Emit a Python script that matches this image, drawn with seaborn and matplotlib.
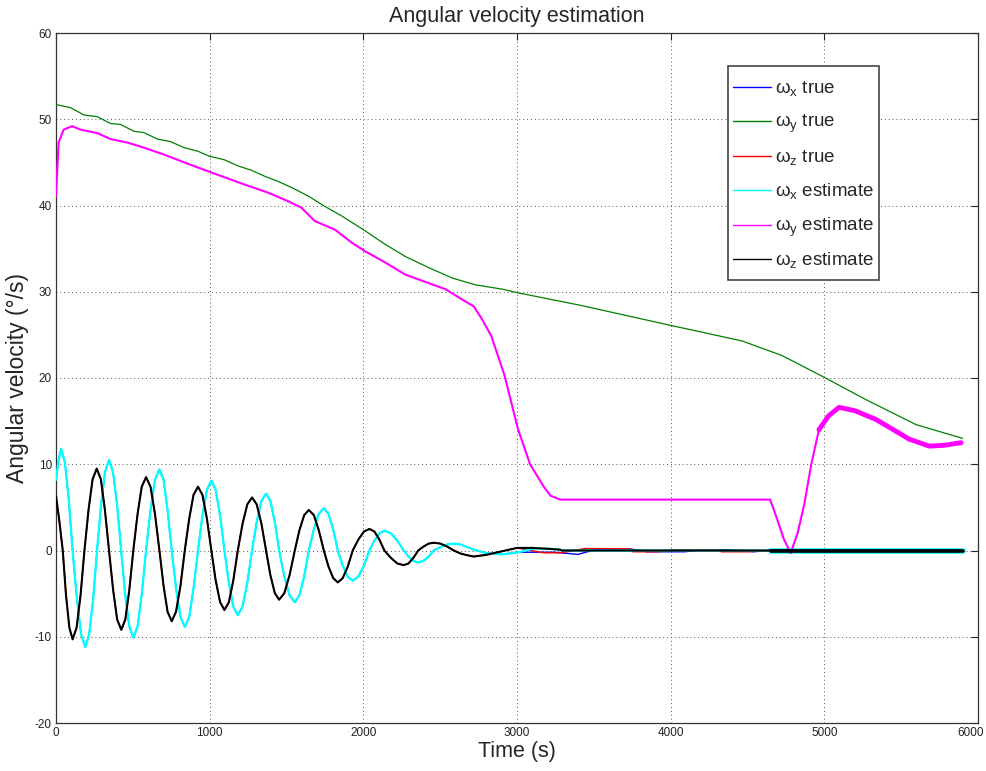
import numpy as np
import pandas as pd
import matplotlib
matplotlib.use("Agg")
import matplotlib.pyplot as plt
from matplotlib.lines import Line2D
import matplotlib.transforms as mtransforms
import seaborn as sns

# ---------------- data ----------------
# omega_x oscillation (true and estimate overlap until ~2900 s)
t_x_osc = [0, 15, 33, 58, 83, 108, 136, 163, 191, 216, 242, 267, 293, 319, 345, 371, 398, 424,
           450, 477, 503, 531, 558, 586, 615, 644, 673, 700, 726, 753, 781, 810, 838, 867, 895,
           924, 953, 982, 1011, 1039, 1068, 1096, 1125, 1154, 1183, 1214, 1245, 1276, 1306, 1337,
           1367, 1395, 1424, 1452, 1486, 1520, 1554, 1584, 1615, 1645, 1678, 1710, 1743, 1773,
           1804, 1834, 1866, 1899, 1931, 1967, 2004, 2040, 2072, 2105, 2137, 2179, 2221, 2263,
           2294, 2326, 2357, 2391, 2425, 2459, 2502, 2546, 2589, 2632, 2676, 2719, 2800, 2900]
wx_osc = [8.2, 10.3, 11.8, 10.2, 5.9, 0.0, -5.6, -9.7, -11.2, -9.7, -5.6, 0.0, 5.25, 9.1, 10.5,
          9.1, 5.25, 0.0, -5.05, -8.8, -10.1, -8.8, -5.05, 0.0, 4.7, 8.2, 9.4, 8.2, 4.7, 0.0,
          -4.4, -7.7, -8.85, -7.7, -4.4, 0.0, 4.05, 7.05, 8.1, 7.05, 4.05, 0.0, -3.75, -6.5, -7.5,
          -6.5, -3.75, 0.0, 3.3, 5.75, 6.6, 5.75, 3.3, 0.0, -3.0, -5.2, -6.0, -5.2, -3.0, 0.0,
          2.45, 4.25, 4.9, 4.25, 2.45, 0.0, -1.75, -3.05, -3.5, -3.05, -1.75, 0.0, 1.15, 2.0, 2.3,
          2.0, 1.15, 0.0, -0.7, -1.2, -1.4, -1.2, -0.7, 0.0, 0.4, 0.7, 0.8, 0.7, 0.4, 0.1, -0.3,
          -0.45]

# omega_z oscillation
t_z_osc = [0, 22, 44, 65, 87, 108, 134, 160, 185, 212, 238, 265, 292, 318, 345, 372, 398, 425,
           451, 477, 503, 531, 558, 586, 615, 644, 673, 700, 726, 753, 781, 810, 838, 867, 895,
           924, 953, 982, 1011, 1039, 1068, 1096, 1125, 1154, 1183, 1214, 1245, 1276, 1306, 1337,
           1367, 1395, 1424, 1452, 1486, 1520, 1554, 1584, 1615, 1645, 1678, 1710, 1743, 1773,
           1804, 1834, 1866, 1899, 1931, 1967, 2004, 2040, 2072, 2105, 2137, 2179, 2221, 2263,
           2294, 2326, 2357, 2391, 2425, 2459, 2502, 2546, 2589, 2632, 2676, 2719, 2800, 2900]
wz_osc = [6.3, 3.4, 0.0, -5.15, -8.95, -10.3, -8.95, -5.15, 0.0, 4.75, 8.25, 9.5, 8.25, 4.75, 0.0,
          -4.6, -8.0, -9.2, -8.0, -4.6, 0.0, 4.25, 7.4, 8.5, 7.4, 4.25, 0.0, -4.1, -7.1, -8.2,
          -7.1, -4.1, 0.0, 3.7, 6.45, 7.4, 6.45, 3.7, 0.0, -3.45, -6.0, -6.9, -6.0, -3.45, 0.0,
          3.1, 5.35, 6.15, 5.35, 3.1, 0.0, -2.85, -4.95, -5.7, -4.95, -2.85, 0.0, 2.35, 4.1, 4.7,
          4.1, 2.35, 0.0, -1.85, -3.2, -3.7, -3.2, -1.85, 0.0, 1.25, 2.2, 2.5, 2.2, 1.25, 0.0,
          -0.85, -1.5, -1.7, -1.5, -0.85, 0.0, 0.45, 0.8, 0.9, 0.8, 0.45, 0.0, -0.35, -0.55,
          -0.7, -0.5, -0.1]

# true tails (small residuals after 2900 s)
t_x_true_tail = [3000, 3241, 3397, 3509, 3732, 3844, 4089, 4201, 4357, 4536, 4647, 5200, 5900]
wx_true_tail = [-0.2, -0.2, -0.45, 0.1, 0.2, -0.15, -0.15, 0.05, 0.1, -0.15, 0.0, 0.0, 0.0]
t_z_true_tail = [3000, 3174, 3286, 3442, 3732, 3754, 3911, 4022, 4313, 4330, 4491, 4647, 5200, 5900]
wz_true_tail = [0.3, -0.27, -0.27, 0.23, 0.2, -0.15, -0.15, 0.08, 0.08, -0.15, -0.15, 0.0, 0.0, 0.0]

# estimate tails: oscillation fades, then zero, then noisy around zero
t_x_est_tail = [3000, 3100, 3200, 3280, 3290, 4650, 5900]
wx_est_tail = [-0.25, 0.2, 0.2, 0.1, 0.0, 0.0, 0.0]
t_z_est_tail = [3000, 3100, 3200, 3280, 3290, 4650, 5900]
wz_est_tail = [0.3, 0.3, 0.2, 0.1, 0.0, 0.0, 0.0]
t_noise = [4650, 5900]
v_noise = [0.0, 0.0]

# omega_y true
t_y_true = [0, 94, 181, 268, 355, 420, 508, 573, 660, 747, 834, 922, 1000, 1096, 1183, 1270,
            1357, 1444, 1532, 1641, 1749, 1858, 2000, 2142, 2272, 2425, 2577, 2730, 2904, 3000,
            3420, 4000, 4464, 4725, 4997, 5270, 5596, 5900]
wy_true = [51.7, 51.35, 50.5, 50.3, 49.5, 49.4, 48.6, 48.45, 47.7, 47.4, 46.7, 46.3, 45.7, 45.3,
           44.6, 44.1, 43.4, 42.8, 42.1, 41.1, 39.9, 38.8, 37.2, 35.5, 34.1, 32.8, 31.6, 30.8,
           30.3, 29.9, 28.4, 26.1, 24.3, 22.6, 20.1, 17.5, 14.6, 13.0]

# omega_y estimate
t_y_est = [0, 17, 50, 105, 159, 268, 355, 464, 573, 704, 834, 1000, 1139, 1248, 1379, 1510,
           1597, 1684, 1815, 1924, 2011, 2142, 2272, 2425, 2534, 2643, 2719, 2773, 2832, 2919,
           3006, 3085, 3174, 3219, 3281, 4647, 4680, 4737, 4781, 4826, 4871, 4915, 4965, 5027,
           5096, 5200, 5335, 5450, 5553, 5684, 5780, 5890]
wy_est = [41.1, 47.3, 48.8, 49.2, 48.8, 48.4, 47.7, 47.3, 46.7, 45.9, 45.0, 43.9, 43.0, 42.3,
          41.5, 40.5, 39.75, 38.2, 37.2, 35.7, 34.7, 33.4, 32.0, 31.0, 30.3, 29.1, 28.3, 26.8,
          24.9, 20.3, 14.1, 10.0, 7.4, 6.35, 5.9, 5.9, 4.3, 1.3, -0.3, 2.0, 5.5, 10.0, 14.0,
          15.6, 16.6, 16.2, 15.2, 14.0, 12.9, 12.1, 12.2, 12.5]

labels = [r"$\omega_\mathrm{x}$ true", r"$\omega_\mathrm{y}$ true", r"$\omega_\mathrm{z}$ true",
          r"$\omega_\mathrm{x}$ estimate", r"$\omega_\mathrm{y}$ estimate", r"$\omega_\mathrm{z}$ estimate"]
colors = ["#0000ff", "#008000", "#ff0000", "#00ffff", "#ff00ff", "#000000"]

# ---------------- figure ----------------
sns.set_style("white")
plt.rcParams["font.family"] = ["Liberation Sans", "DejaVu Sans"]
plt.rcParams["mathtext.fontset"] = "custom"
plt.rcParams["mathtext.rm"] = "Liberation Sans"
plt.rcParams["mathtext.it"] = "Liberation Sans"
plt.rcParams["axes.unicode_minus"] = False

fig = plt.figure(figsize=(9.86, 7.71), dpi=100, facecolor="white")
ax = fig.add_axes([56 / 986, 1 - 723 / 771, 922 / 986, 690 / 771])

def draw(t, v, color, lw, z):
    df = pd.DataFrame({"t": t, "v": v})
    sns.lineplot(data=df, x="t", y="v", color=color, linewidth=lw, ax=ax,
                 sort=False, estimator=None, zorder=z)

draw(t_x_osc + t_x_true_tail, wx_osc + wx_true_tail, colors[0], 1.0, 2)
draw(t_y_true, wy_true, colors[1], 0.9, 3)
draw(t_z_osc + t_z_true_tail, wz_osc + wz_true_tail, colors[2], 1.0, 4)
draw(t_x_osc + t_x_est_tail, wx_osc + wx_est_tail, colors[3], 1.6, 5)
draw(t_noise, v_noise, colors[3], 4.0, 5)
draw(t_y_est, wy_est, colors[4], 1.5, 6)
tail_idx = [i for i, tt in enumerate(t_y_est) if tt >= 4930]
draw([t_y_est[i] for i in tail_idx], [wy_est[i] for i in tail_idx], colors[4], 3.5, 6)
draw(t_z_osc + t_z_est_tail, wz_osc + wz_est_tail, colors[5], 1.5, 7)
draw(t_noise, v_noise, colors[5], 2.6, 7)

ax.set_xlim(0, 6000)
ax.set_ylim(-20, 60)
ax.set_xticks(range(0, 6001, 1000))
ax.set_yticks(range(-20, 61, 10))
ax.grid(True, linestyle=(0, (1, 3)), color="#555555", linewidth=0.7)
ax.tick_params(direction="in", length=5, width=0.8, labelsize=8.5, color="#222222",
               top=True, right=True, labelcolor="#222222", pad=3)
for s in ax.spines.values():
    s.set_color("#333333")
    s.set_linewidth(0.9)

# keep the last x tick label inside the canvas
last = ax.get_xticklabels()[-1]
last.set_transform(last.get_transform() + mtransforms.ScaledTranslation(-7 / 100, 0, fig.dpi_scale_trans))

ax.set_title("Angular velocity estimation", fontsize=15.5, pad=8)
ax.set_xlabel("Time (s)", fontsize=15.5, labelpad=1)
ax.set_ylabel("Angular velocity (\u00b0/s)", fontsize=16.5, labelpad=4)

handles = [Line2D([0], [0], color=c, lw=1.0) for c in colors]
leg = ax.legend(handles, labels, loc="upper left", bbox_to_anchor=(0.729, 0.952),
                fontsize=13.5, frameon=True, fancybox=False, shadow=False,
                edgecolor="#444444", framealpha=1, handlelength=2.0, handletextpad=0.2,
                handleheight=2.2, labelspacing=0.16, borderpad=0.28, borderaxespad=0)
leg.get_frame().set_linewidth(1.2)
# lower the handle lines so they sit at the text's mid-height
for ln in leg.get_lines():
    yd = np.asarray(ln.get_ydata(), dtype=float)
    ln.set_ydata(yd - 3.5)

fig.savefig("out.png", dpi=100, facecolor="white")
